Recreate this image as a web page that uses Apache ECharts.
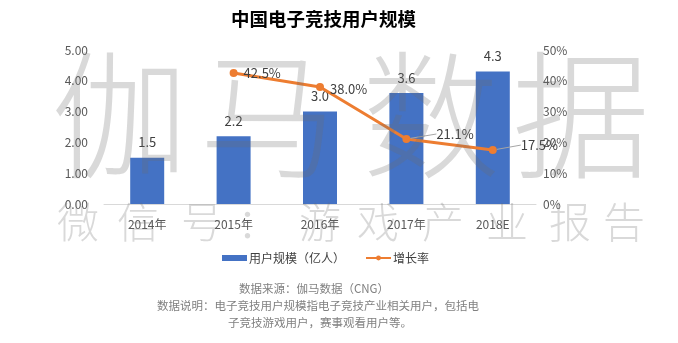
<!DOCTYPE html>
<html>
<head>
<meta charset="utf-8">
<script src="https://cdn.jsdelivr.net/npm/echarts@6/dist/echarts.min.js"></script>
<style>html,body{margin:0;padding:0;background:#fff;}#c{width:678px;height:343px;}</style>
</head>
<body>
<div id="c"></div>
<script>
var categories = ['2014年', '2015年', '2016年', '2017年', '2018E'];
var userScale = [1.5, 2.2, 3.0, 3.6, 4.3];
var growthRate = [null, 42.5, 38.0, 21.1, 17.5];
var leftTicks = [0, 1, 2, 3, 4, 5];
var rightTicks = [0, 10, 20, 30, 40, 50];
var titleText = '中国电子竞技用户规模';
var seriesNames = ['用户规模（亿人）', '增长率'];
var noteLines = ['数据来源：伽马数据（CNG）', '数据说明：电子竞技用户规模指电子竞技产业相关用户，包括电', '子竞技游戏用户，赛事观看用户等。'];
var watermarkBig = ['伽', '马', '数', '据'];
var watermarkSmall = ['微', '信', '号', '：', '游', '戏', '产', '业', '报', '告'];

var FONT = '"Noto Sans CJK SC", "Noto Sans", sans-serif';
var chart = echarts.init(document.getElementById('c'), null, {renderer: 'canvas'});

var bigX = [120, 268, 431, 581];
var smallX = [78, 138, 202, 258, 320, 378, 443, 507, 570, 624];
var graphics = [];
watermarkBig.forEach(function (ch, i) {
  graphics.push({type: 'text', z: 100, silent: true, x: bigX[i], y: 115,
    style: {text: ch, font: '300 138px ' + FONT, fill: 'rgba(110,110,110,0.26)', textAlign: 'center', textVerticalAlign: 'middle'}});
});
watermarkSmall.forEach(function (ch, i) {
  graphics.push({type: 'text', z: 100, silent: true, x: smallX[i], y: 222,
    style: {text: ch, font: '300 42px ' + FONT, fill: 'rgba(110,110,110,0.26)', textAlign: 'center', textVerticalAlign: 'middle'}});
});
var noteY = [289, 306, 323];
var noteX = [314, 318, 320];
noteLines.forEach(function (t, i) {
  graphics.push({type: 'text', silent: true, x: noteX[i], y: noteY[i],
    style: {text: t, font: '11.5px ' + FONT, fill: '#808080', textAlign: 'center', textVerticalAlign: 'middle'}});
});

var labelMoves = {3: [20, -5], 4: [18, -5]};
var lineData = growthRate.map(function (v, i) {
  var item = {value: v === null ? '-' : v};
  if (labelMoves[i]) item.labelLine = {show: true};
  return item;
});

chart.setOption({
  animation: false,
  backgroundColor: '#fff',
  textStyle: {fontFamily: FONT},
  title: {
    text: titleText, left: 226, top: 5,
    textStyle: {fontSize: 18.5, fontWeight: 'bold', color: '#000', fontFamily: FONT}
  },
  legend: {
    left: 217, top: 247, itemWidth: 25, itemHeight: 6, itemGap: 20,
    textStyle: {fontSize: 12, color: '#404040', padding: [0, 0, 0, -3]},
    data: [{name: seriesNames[0], icon: 'rect'}, {name: seriesNames[1]}]
  },
  grid: {left: 104, right: 142, top: 50, bottom: 139, containLabel: false},
  xAxis: {
    type: 'category', data: categories,
    axisLine: {show: true, lineStyle: {color: '#d9d9d9', width: 1}},
    axisTick: {show: false},
    axisLabel: {color: '#595959', fontSize: 12, margin: 14}
  },
  yAxis: [{
    type: 'value', min: leftTicks[0], max: leftTicks[leftTicks.length - 1], interval: 1,
    axisLine: {show: false}, axisTick: {show: false}, splitLine: {show: false},
    axisLabel: {color: '#595959', fontSize: 12, margin: 16, formatter: function (v) { return v.toFixed(2); }}
  }, {
    type: 'value', min: rightTicks[0], max: rightTicks[rightTicks.length - 1], interval: 10,
    axisLine: {show: false}, axisTick: {show: false}, splitLine: {show: false},
    axisLabel: {color: '#595959', fontSize: 12, margin: 7, formatter: '{value}%'}
  }],
  series: [{
    name: seriesNames[0], type: 'bar', data: userScale, barWidth: 34,
    itemStyle: {color: '#4472C4'},
    label: {show: true, position: 'top', distance: 9, color: '#404040', fontSize: 13,
      formatter: function (p) { return p.value.toFixed(1); }}
  }, {
    name: seriesNames[1], type: 'line', yAxisIndex: 1, data: lineData,
    connectNulls: false, symbol: 'circle', symbolSize: 8,
    lineStyle: {color: '#ED7D31', width: 3},
    itemStyle: {color: '#ED7D31'},
    label: {show: true, position: 'right', distance: 6, color: '#404040', fontSize: 13,
      formatter: function (p) { return Number(p.value).toFixed(1) + '%'; }},
    labelLine: {show: false, lineStyle: {color: '#a6a6a6', width: 1}},
    labelLayout: function (params) {
      var m = labelMoves[params.dataIndex];
      if (params.dataIndex === 2) return {dy: 2};
      if (m) return {dx: m[0], dy: m[1]};
      return {};
    }
  }],
  graphic: graphics
});
</script>
</body>
</html>
